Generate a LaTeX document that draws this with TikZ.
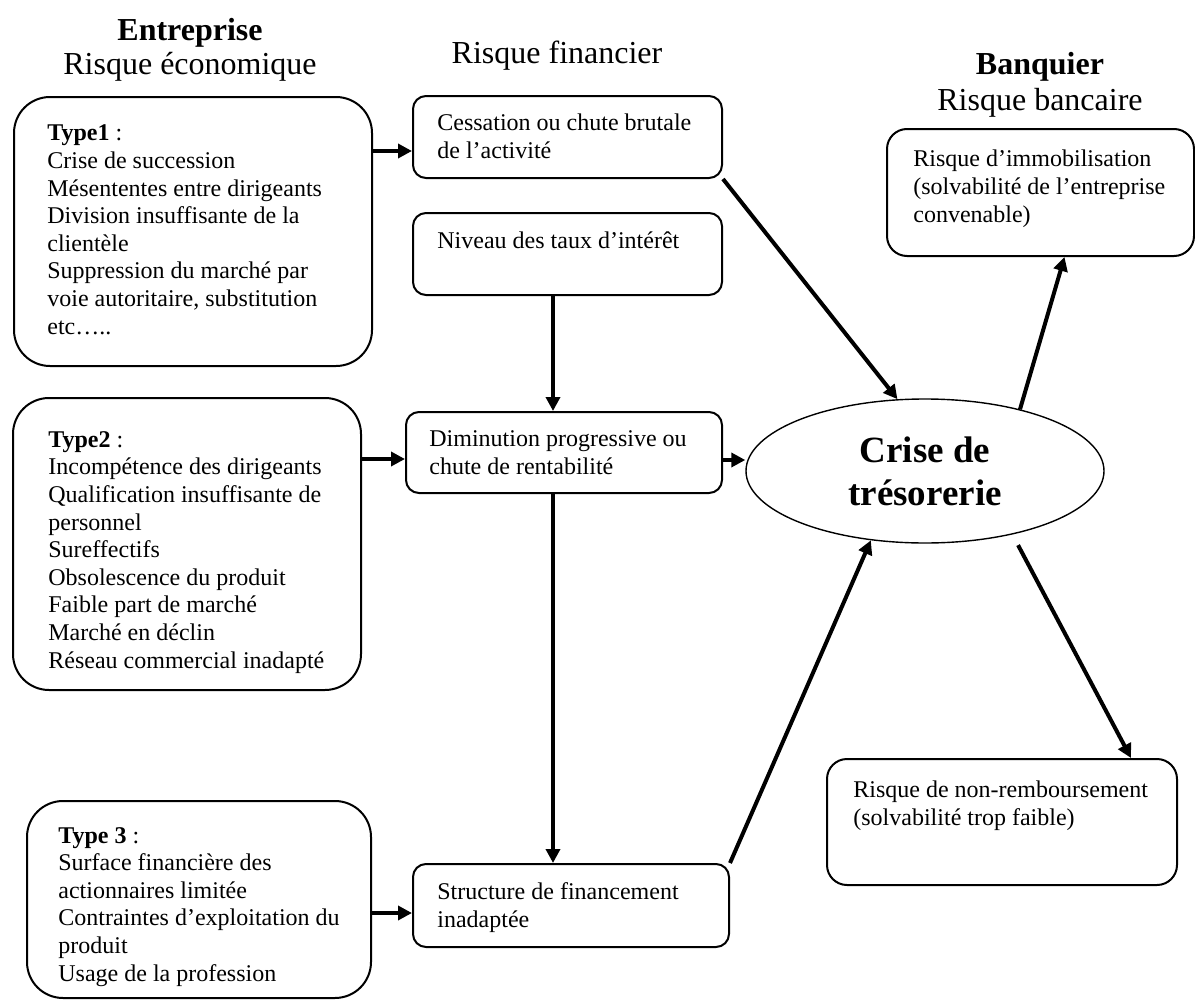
\documentclass[tikz,border=0pt]{standalone}
\usepackage{fontspec}
\setmainfont{Liberation Serif}
\usepackage{tikz}
\usetikzlibrary{shapes, arrows.meta, fit, calc}

\begin{document}
\begin{tikzpicture}[x=0.5pt, y=-0.5pt,
		font=\fontsize{12}{13.8}\selectfont,
		typebox/.style={draw, line width=1pt, rounded corners=18pt, inner sep=0pt},
		finbox/.style={draw, line width=1pt, rounded corners=6.5pt, inner sep=0pt},
		bankbox/.style={draw, line width=1pt, rounded corners=10pt, inner sep=0pt},
		boxtext/.style={anchor=base west, align=left, inner sep=0pt},
		heading/.style={anchor=base, inner sep=0pt, font=\fontsize{16}{18}\selectfont},
		headbold/.style={heading, font=\fontsize{16}{18}\selectfont\bfseries},
		flow/.style={-{Triangle[length=7pt, width=7pt]}, line width=2pt}]
	\useasboundingbox (0,0) rectangle (1195,1001);

	\node[headbold] (entr) at (190,40) {Entreprise};
	\node[heading] (riseco) at (190,75) {Risque économique};
	\node[heading] (risfin) at (557,63) {Risque financier};
	\node[headbold] (banq) at (1040,74) {Banquier};
	\node[heading] (risban) at (1040,110) {Risque bancaire};

	\node[typebox, fit={(14,97) (372,366)}] (type1) {};
	\node[boxtext] (type1txt) at (47,334) {\textbf{Type1} :\\
			Crise de succession\\
			Mésententes entre dirigeants\\
			Division insuffisante de la\\
			clientèle\\
			Suppression du marché par\\
			voie autoritaire, substitution\\
			etc…..};

	\node[typebox, fit={(13,398) (361,690)}] (type2) {};
	\node[boxtext] (type2txt) at (48,668) {\textbf{Type2} :\\
			Incompétence des dirigeants\\
			Qualification insuffisante de\\
			personnel\\
			Sureffectifs\\
			Obsolescence du produit\\
			Faible part de marché\\
			Marché en déclin\\
			Réseau commercial inadapté};

	\node[typebox, fit={(27,801) (371,998)}] (type3) {};
	\node[boxtext] (type3txt) at (58,981) {\textbf{Type 3} :\\
			Surface financière des\\
			actionnaires limitée\\
			Contraintes d’exploitation du\\
			produit\\
			Usage de la profession};

	\node[finbox, fit={(413,96) (722,178)}] (cess) {};
	\node[boxtext] (cesstxt) at (437,158) {Cessation ou chute brutale\\de l’activité};

	\node[finbox, fit={(413,213) (722,295)}] (niv) {};
	\node[boxtext] (nivtxt) at (437,248) {Niveau des taux d’intérêt};

	\node[finbox, fit={(406,412) (722,493)}] (dim) {};
	\node[boxtext] (dimtxt) at (429,474) {Diminution progressive ou\\chute de rentabilité};

	\node[finbox, fit={(413,864) (729,947)}] (struct) {};
	\node[boxtext] (structtxt) at (437,927) {Structure de financement\\inadaptée};

	\node[bankbox, fit={(887,129) (1194,256)}] (immo) {};
	\node[boxtext] (immotxt) at (913,222) {Risque d’immobilisation\\(solvabilité de l’entreprise\\convenable)};

	\node[bankbox, fit={(827,759) (1177,885)}] (nonremb) {};
	\node[boxtext] (nonrembtxt) at (853,825) {Risque de non-remboursement\\(solvabilité trop faible)};

	\node[draw, ellipse, line width=0.7pt, minimum width=179pt, minimum height=72pt, inner sep=0pt,
		align=center, font=\fontsize{18.5}{21.5}\selectfont\bfseries] (crise) at (925,471) {Crise de\\trésorerie};

	\coordinate (vline) at (553,0);
	\draw[flow] ([yshift=-7pt]cess.west -| type1.east) -- ([yshift=-7pt]cess.west);
	\draw[flow] ([yshift=-3.25pt]dim.west -| type2.east) -- ([yshift=-3.25pt]dim.west);
	\draw[flow] ([yshift=-3.75pt]struct.west -| type3.east) -- ([yshift=-3.75pt]struct.west);
	\draw[flow] (vline |- niv.south) -- (vline |- dim.north);
	\draw[flow] (vline |- dim.south) -- (vline |- struct.north);
	\draw[flow] (cess.south east) -- (crise.111);
	\draw[flow] ([yshift=-3.75pt]dim.east) -- ([yshift=-3.75pt]dim.east -| crise.west);
	\draw[flow] (struct.north east) -- (crise.232);
	\draw[flow] (crise.33) -- ([xshift=12pt]immo.south);
	\draw[flow, shorten <=6pt] (crise.-36) -- ([xshift=64.5pt]nonremb.north);
\end{tikzpicture}
\end{document}
